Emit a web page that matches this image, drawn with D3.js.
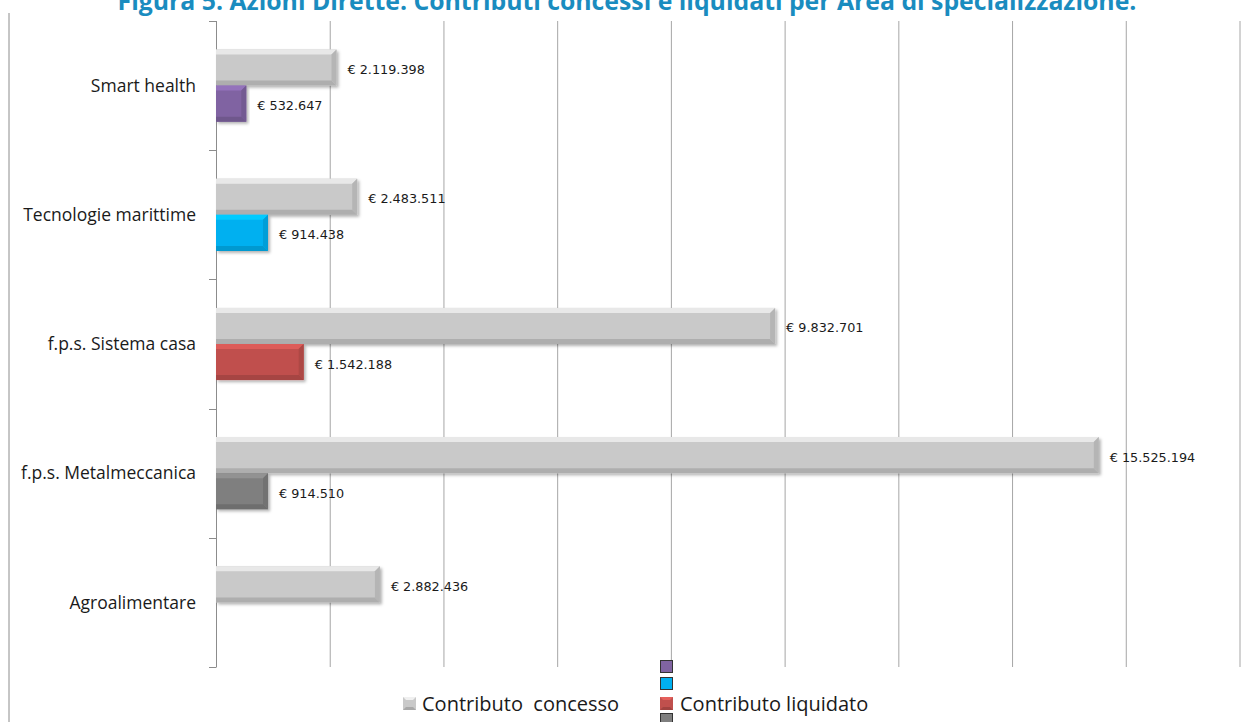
<!DOCTYPE html>
<html>
<head>
<meta charset="utf-8">
<script src="https://cdn.jsdelivr.net/npm/d3@7"></script>
<style>
  html, body { margin: 0; padding: 0; background: #fff; }
  svg { display: block; }
  text { font-family: "Open Sans", sans-serif; fill: #1a1a1a; }
</style>
</head>
<body>
<svg width="1242" height="722"></svg>
<script>
// data
var categories = ["Smart health", "Tecnologie marittime", "f.p.s. Sistema casa", "f.p.s. Metalmeccanica", "Agroalimentare"];
var series = ["Contributo  concesso", "Contributo liquidato"];
var concesso = [2119398, 2483511, 9832701, 15525194, 2882436];
var liquidato = [532647, 914438, 1542188, 914510, null];
var liquidatoColors = ["#8064a2", "#00b0f0", "#c0504d", "#7f7f7f", "#4f81bd"];
var concessoColor = "#c9c9c9";
var xTicks = [0, 2000000, 4000000, 6000000, 8000000, 10000000, 12000000, 14000000, 16000000, 18000000];
var titleText = "Figura 5. Azioni Dirette. Contributi concessi e liquidati per Area di specializzazione.";

var loadVis = function() {
    var svg = d3.select("svg");

    var left = 216, right = 1239.5, top = 21, bottom = 667;

    var it = d3.formatLocale({decimal: ",", thousands: ".", grouping: [3], currency: ["€ ", ""]});
    var fmt = it.format("$,d");

    var x = d3.scaleLinear()
        .domain([0, 18000000])
        .range([left, right]);

    var y = d3.scaleBand()
        .domain(categories)
        .range([top, bottom])
        .padding(0);

    var ySub = d3.scaleBand()
        .domain(series)
        .range([0, y.bandwidth()])
        .paddingInner(0)
        .paddingOuter(0.79);

    var defs = svg.append("defs");
    var f = defs.append("filter").attr("id", "shadow")
        .attr("x", "-5%").attr("y", "-20%").attr("width", "115%").attr("height", "150%");
    f.append("feDropShadow")
        .attr("dx", 2).attr("dy", 2).attr("stdDeviation", 1.4)
        .attr("flood-color", "#000").attr("flood-opacity", 0.3);

    // title (cut off at the top, as in the source)
    svg.append("text")
        .attr("x", 627)
        .attr("y", 10)
        .attr("text-anchor", "middle")
        .style("font-size", "24.8px")
        .style("font-weight", "bold")
        .style("fill", "#1a8cbf")
        .text(titleText);

    // chart frame left edge
    svg.append("line")
        .attr("x1", 9).attr("x2", 9)
        .attr("y1", 13).attr("y2", 722)
        .style("stroke", "#8c8c8c").style("stroke-width", 1);

    // gridlines
    var grid = svg.append("g")
        .attr("class", "grid")
        .attr("transform", "translate(0," + bottom + ")")
        .call(d3.axisBottom(x).tickValues(xTicks.slice(1)).tickSize(bottom - top).tickFormat(""));
    grid.select(".domain").remove();
    grid.selectAll(".tick line")
        .attr("y2", -(bottom - top))
        .style("stroke", "#a6a6a6");

    // left axis line and boundary ticks
    svg.append("line")
        .attr("x1", x(0) + 0.5).attr("x2", x(0) + 0.5)
        .attr("y1", top).attr("y2", bottom)
        .style("stroke", "#8c8c8c");
    var bounds = categories.map(function(c) { return y(c); }).concat([y.range()[1]]);
    svg.append("g").selectAll("line")
        .data(bounds).enter()
        .append("line")
            .attr("x1", x(0) - 7).attr("x2", x(0) + 0.5)
            .attr("y1", function(d) { return Math.round(d) + 0.5; })
            .attr("y2", function(d) { return Math.round(d) + 0.5; })
            .style("stroke", "#8c8c8c");

    // category labels
    svg.append("g").selectAll("text")
        .data(categories).enter()
        .append("text")
            .attr("x", x(0) - 20)
            .attr("y", function(d) { return y(d) + y.bandwidth() / 2; })
            .attr("dy", "0.35em")
            .attr("text-anchor", "end")
            .style("font-size", "17.5px")
            .text(function(d) { return d; });

    // bars
    var bars = [];
    categories.forEach(function(c, i) {
        bars.push({cat: c, s: series[0], v: concesso[i], color: concessoColor});
        if (liquidato[i] != null) bars.push({cat: c, s: series[1], v: liquidato[i], color: liquidatoColors[i]});
    });

    var b = 5;
    var g = svg.append("g").attr("class", "bars")
        .selectAll("g")
        .data(bars).enter()
        .append("g");

    g.each(function(d) {
        var el = d3.select(this);
        var x0 = x(0), x1 = x(d.v);
        var y0 = y(d.cat) + ySub(d.s), y1 = y0 + ySub.bandwidth();
        var base = d3.color(d.color);
        el.append("rect")
            .attr("x", x0).attr("y", y0)
            .attr("width", x1 - x0).attr("height", y1 - y0)
            .attr("fill", d.color)
            .attr("filter", "url(#shadow)");
        // bevel pieces
        el.append("polygon")
            .attr("points", [[x0, y0], [x1, y0], [x1 - b, y0 + b], [x0, y0 + b]].join(" "))
            .attr("fill", base.brighter(0.4));
        el.append("polygon")
            .attr("points", [[x0, y1], [x1, y1], [x1 - b, y1 - b], [x0, y1 - b]].join(" "))
            .attr("fill", base.darker(0.4));
        el.append("polygon")
            .attr("points", [[x1, y0], [x1, y1], [x1 - b, y1 - b], [x1 - b, y0 + b]].join(" "))
            .attr("fill", base.darker(0.3));
        el.append("text")
            .attr("x", x1 + 11)
            .attr("y", (y0 + y1) / 2 + 2)
            .attr("dy", "0.35em")
            .style("font-family", "'DejaVu Sans', sans-serif")
            .style("font-size", "12.8px")
            .text(fmt(d.v));
    });

    // legend
    var leg = svg.append("g").attr("class", "legend");
    function bevelBox(px, py, s, color) {
        var c = d3.color(color);
        leg.append("rect").attr("x", px).attr("y", py).attr("width", s).attr("height", s).attr("fill", color);
        leg.append("polygon").attr("points", [[px, py], [px + s, py], [px + s - 3, py + 3], [px + 3, py + 3]].join(" ")).attr("fill", c.brighter(0.5));
        leg.append("polygon").attr("points", [[px, py + s], [px + s, py + s], [px + s - 3, py + s - 3], [px + 3, py + s - 3]].join(" ")).attr("fill", c.darker(0.5));
    }
    bevelBox(403, 697, 13, concessoColor);
    leg.append("text")
        .attr("x", 422).attr("y", 711)
        .style("font-size", "20px")
        .style("white-space", "pre")
        .attr("xml:space", "preserve")
        .text(series[0]);

    var stackY = [660, 677, 697, 713];
    [0, 1, 3].forEach(function(k) {
        leg.append("rect")
            .attr("x", 660.5).attr("y", stackY[k] + 0.5)
            .attr("width", 12).attr("height", 12)
            .attr("fill", liquidatoColors[k])
            .style("stroke", "#333").style("stroke-width", 1);
    });
    bevelBox(660, stackY[2], 13, liquidatoColors[2]);
    leg.append("text")
        .attr("x", 680).attr("y", 711)
        .style("font-size", "20px")
        .text(series[1]);
};

document.addEventListener('DOMContentLoaded', loadVis, false);
</script>
</body>
</html>
